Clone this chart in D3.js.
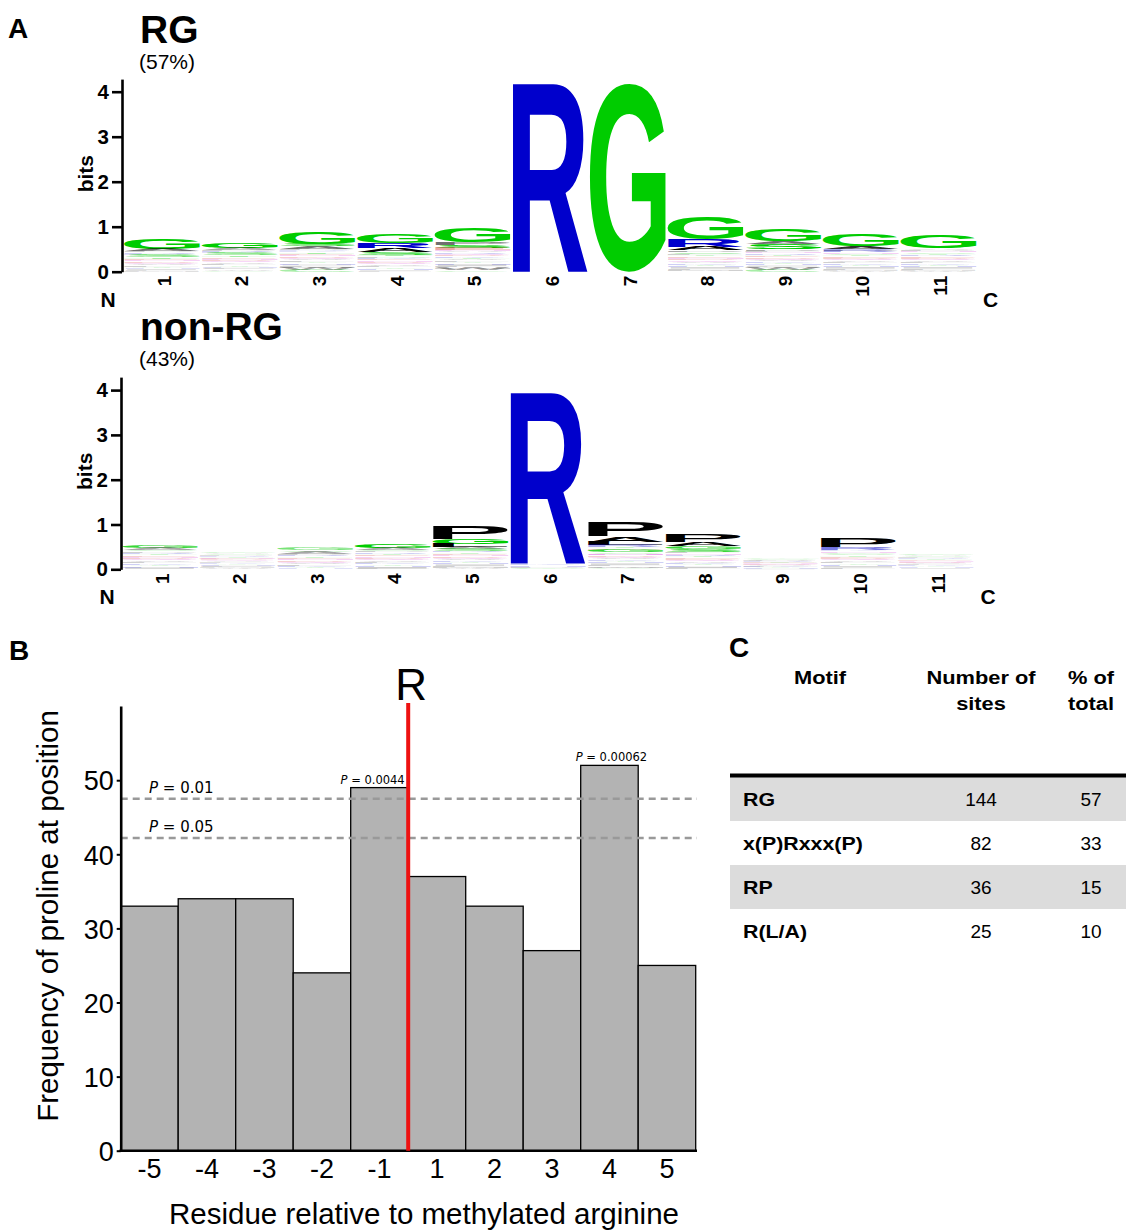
<!DOCTYPE html>
<html><head><meta charset="utf-8">
<script src="https://cdn.jsdelivr.net/npm/d3@7"></script>
<style>body{margin:0;background:#fff} svg{display:block}</style>
</head><body>
<svg id="fig" width="1126" height="1230"></svg>
<script>
// ---------------- DATA ----------------
const logoPositions = ["1","2","3","4","5","6","7","8","9","10","11"];
const bitTicks = [0,1,2,3,4];
// each column listed top -> bottom as [residue, bits]
const rgLogo = [
  [["G",.22],["A",.05],["P",.03],["R",.03],["K",.02],["S",.05],["T",.04],["E",.03],["N",.03],["D",.03],["Q",.03],["V",.03],["L",.03],["Y",.03],["H",.02],["I",.02],["F",.02],["M",.02]],
  [["G",.11],["A",.04],["P",.03],["R",.03],["K",.02],["S",.05],["T",.04],["E",.03],["N",.03],["D",.03],["Q",.03],["V",.03],["L",.03],["Y",.03],["H",.02],["I",.02],["F",.02],["M",.01],["W",.02],["C",.02]],
  [["G",.25],["S",.06],["A",.05],["P",.03],["R",.02],["K",.02],["T",.04],["E",.03],["N",.03],["D",.03],["Q",.03],["V",.03],["L",.03],["Y",.03],["H",.03],["I",.02],["F",.03],["M",.03],["W",.04],["C",.04]],
  [["G",.20],["R",.11],["A",.09],["S",.06],["T",.04],["P",.03],["K",.03],["E",.03],["N",.03],["D",.03],["Q",.03],["V",.03],["L",.03],["Y",.03],["H",.03],["I",.02],["F",.02]],
  [["G",.33],["P",.05],["S",.07],["E",.04],["N",.03],["A",.03],["R",.03],["Q",.03],["D",.03],["K",.03],["T",.03],["V",.03],["L",.03],["Y",.03],["H",.03],["I",.03],["F",.03],["M",.03],["W",.04],["C",.03]],
  [["R",4.18]],
  [["G",4.18]],
  [["G",.48],["R",.16],["A",.07],["P",.04],["S",.04],["L",.03],["T",.03],["E",.03],["N",.03],["D",.03],["Q",.03],["V",.03],["K",.03],["Y",.03],["H",.03],["I",.03],["F",.03],["M",.03],["W",.01]],
  [["G",.26],["A",.05],["S",.11],["P",.04],["L",.03],["N",.03],["R",.03],["T",.03],["E",.03],["D",.03],["Q",.03],["V",.03],["K",.03],["Y",.03],["H",.03],["I",.02],["F",.02],["M",.02],["W",.04],["C",.04]],
  [["G",.27],["A",.06],["P",.04],["R",.04],["N",.03],["S",.03],["T",.03],["E",.03],["D",.03],["Q",.03],["V",.03],["L",.03],["K",.03],["Y",.03],["H",.03],["I",.03],["F",.03],["M",.02],["W",.02]],
  [["G",.30],["A",.03],["P",.03],["N",.03],["S",.03],["T",.03],["R",.03],["E",.03],["D",.03],["Q",.03],["V",.03],["L",.03],["K",.03],["Y",.03],["H",.03],["I",.03],["F",.03],["M",.02],["W",.02]]
];
const nonRgLogo = [
  [["G",.06],["A",.04],["S",.03],["P",.03],["R",.03],["T",.03],["E",.03],["N",.03],["D",.03],["Q",.03],["V",.03],["L",.03],["K",.03],["Y",.03],["H",.03],["I",.03],["F",.01]],
  [["G",.03],["A",.02],["S",.02],["P",.02],["R",.02],["T",.02],["E",.02],["N",.02],["D",.02],["Q",.02],["V",.02],["L",.02],["K",.02],["Y",.02],["H",.02],["I",.02],["F",.02],["M",.02],["W",.02]],
  [["G",.05],["S",.03],["A",.04],["P",.03],["R",.03],["T",.03],["E",.03],["N",.03],["D",.03],["Q",.03],["V",.03],["L",.03],["K",.03],["Y",.03],["H",.02]],
  [["G",.08],["A",.04],["S",.03],["P",.03],["R",.03],["T",.03],["E",.03],["N",.03],["D",.03],["Q",.03],["V",.03],["L",.03],["K",.03],["Y",.03],["H",.03],["I",.03],["F",.02]],
  [["P",.28],["G",.10],["L",.07],["A",.04],["S",.05],["R",.03],["T",.03],["E",.03],["N",.03],["D",.03],["Q",.03],["V",.03],["K",.03],["Y",.03],["H",.03],["I",.03],["F",.03],["M",.03],["W",.02]],
  [["R",3.79],["K",.03],["H",.03],["P",.03],["G",.03]],
  [["P",.33],["A",.12],["L",.07],["R",.04],["T",.03],["E",.03],["G",.06],["S",.03],["N",.04],["D",.03],["Q",.03],["V",.03],["K",.03],["Y",.03],["H",.03],["I",.03],["F",.03],["M",.03],["W",.02],["C",.02]],
  [["P",.17],["A",.09],["G",.06],["S",.06],["L",.03],["N",.03],["R",.03],["T",.03],["E",.03],["D",.03],["Q",.03],["V",.03],["K",.03],["Y",.03],["H",.03],["I",.03],["F",.03]],
  [["G",.02],["S",.02],["A",.015],["P",.015],["R",.015],["T",.015],["E",.015],["N",.015],["D",.015],["Q",.015],["V",.015],["L",.015],["K",.015],["Y",.015],["H",.015],["I",.015]],
  [["P",.19],["A",.03],["R",.05],["K",.02],["N",.03],["G",.03],["S",.03],["T",.03],["E",.03],["D",.03],["Q",.03],["V",.03],["L",.03],["Y",.03],["H",.03],["I",.03],["F",.03],["M",.01]],
  [["G",.03],["A",.02],["S",.02],["P",.02],["R",.02],["T",.02],["E",.02],["N",.02],["D",.02],["Q",.02],["V",.02],["L",.02],["K",.02],["Y",.02],["H",.02],["I",.02],["F",.01]]
];

const residues = ["-5","-4","-3","-2","-1","1","2","3","4","5"];
const prolineFreq = [33,34,34,24,49,37,33,27,52,25];
const freqTicks = [0,10,20,30,40,50];
const thresholdLabels = ["0.01","0.05"];
const thresholdValues = [47.5,42.2];
const annotatedResidues = ["-1","4"];
const annotatedPvalues = ["0.0044","0.00062"];

const tableHeaders = [["Motif"],["Number of","sites"],["% of","total"]];
const motifs = ["RG","x(P)Rxxx(P)","RP","R(L/A)"];
const siteCounts = [144,82,36,25];
const sitePercents = [57,33,15,10];

// ---------------- DRAWING ----------------
const svg = d3.select("#fig");
const SANS = "'Liberation Sans', Arial, sans-serif";
const DEJA = "'DejaVu Sans', sans-serif";

const aaColor = aa => "GSTYC".includes(aa) ? "#00cc00" : "KRH".includes(aa) ? "#0000cc" :
  "DE".includes(aa) ? "#cc0000" : "QN".includes(aa) ? "#cc00cc" : "#000000";

const ctx = document.createElement("canvas").getContext("2d");
ctx.font = "bold 100px 'Liberation Sans'";
const gm = {};
function glyph(l){
  if(!gm[l]){ const m = ctx.measureText(l);
    gm[l] = {l:m.actualBoundingBoxLeft, r:m.actualBoundingBoxRight, a:m.actualBoundingBoxAscent, d:m.actualBoundingBoxDescent}; }
  return gm[l];
}

function txt(g, x, y, s, size, opts={}){
  const t = g.append("text").text(s)
    .attr("font-family",opts.family||SANS).attr("font-size",size)
    .attr("font-weight",opts.weight||"normal").attr("text-anchor",opts.anchor||"start")
    .attr("fill",opts.fill||"#000");
  if(opts.sx) t.attr("transform",`translate(${x},${y}) scale(${opts.sx},1)`);
  else t.attr("x",x).attr("y",y);
  return t;
}

function drawLogo(data, cfg){
  const g = svg.append("g");
  const x = d3.scaleBand().domain(logoPositions).range([cfg.x0, cfg.x1]).paddingInner(0.02).paddingOuter(0);
  const y = d3.scaleLinear().domain([0, cfg.ymax]).range([cfg.zero, cfg.zero - cfg.ymax*cfg.ppb]);
  data.forEach((col, i) => {
    const x0 = x(logoPositions[i]), w = x.bandwidth();
    let cum = d3.sum(col, d => d[1]);
    col.forEach(([aa, h]) => {
      const top = y(cum), bot = y(cum - h); cum -= h;
      const hpx = bot - top;
      const m = glyph(aa);
      const sx = w/(m.l+m.r), sy = hpx/(m.a+m.d);
      const op = hpx >= 3 ? 1 : Math.max(0.12, Math.pow(hpx/3, 2));
      g.append("text").text(aa).attr("font-family","Liberation Sans").attr("font-weight","bold")
        .attr("font-size",100).attr("fill",aaColor(aa)).attr("fill-opacity",op)
        .attr("transform",`translate(${x0},${top}) scale(${sx},${sy}) translate(${m.l},${m.a})`);
    });
  });
  const ax = g.append("g").attr("transform",`translate(${cfg.axX},0)`)
    .call(d3.axisLeft(y).tickValues(bitTicks).tickFormat(d3.format("d")).tickSize(10).tickSizeOuter(0).tickPadding(3));
  ax.select(".domain").attr("stroke-width",2.6).attr("stroke","#000");
  ax.selectAll(".tick line").attr("stroke-width",2.6).attr("stroke","#000");
  ax.selectAll(".tick text").attr("font-family",SANS).attr("font-weight","bold").attr("font-size",20.5).attr("fill","#000");
  g.append("text").text("bits").attr("transform",`translate(${cfg.axX-29},${cfg.zero-98}) rotate(-90)`)
    .attr("text-anchor","middle").attr("font-family",SANS).attr("font-weight","bold").attr("font-size",21);
  logoPositions.forEach(p => {
    g.append("text").text(p).attr("transform",`translate(${x(p)+x.bandwidth()/2+2},${cfg.zero+4}) rotate(-90)`)
      .attr("text-anchor","end").attr("dy","0.35em").attr("font-family",SANS).attr("font-weight","bold").attr("font-size",19);
  });
  txt(g, cfg.axX-14, cfg.zero+35, "N", 21, {weight:"bold", anchor:"middle"});
  txt(g, cfg.x1+14, cfg.zero+35, "C", 21, {weight:"bold", anchor:"middle"});
  txt(g, 140, cfg.titleY, cfg.title, 39, {weight:"bold"});
  txt(g, 139, cfg.titleY+26, cfg.sub, 21);
}

txt(svg, 8, 38, "A", 28, {weight:"bold"});
drawLogo(rgLogo, {x0:124, x1:976.5, zero:271.7, ppb:45, ymax:4.28, axX:122, title:"RG", sub:"(57%)", titleY:43});
drawLogo(nonRgLogo, {x0:122, x1:974, zero:569.3, ppb:44.8, ymax:4.29, axX:121, title:"non-RG", sub:"(43%)", titleY:340});

// ---------- Panel B ----------
txt(svg, 9, 660, "B", 28, {weight:"bold"});
const gb = svg.append("g");
const bx = d3.scaleBand().domain(residues).range([120.7, 695.7]).padding(0);
const by = d3.scaleLinear().domain([0, 60]).range([1150.7, 706.1]);

gb.selectAll("rect.bar").data(residues).join("rect").attr("class","bar")
  .attr("x", d => bx(d)).attr("width", bx.bandwidth())
  .attr("y", (d,i) => by(prolineFreq[i])).attr("height", (d,i) => by(0) - by(prolineFreq[i]))
  .attr("fill","#b3b3b3").attr("stroke","#000").attr("stroke-width",1.3);

thresholdValues.forEach((v,i) => {
  gb.append("line").attr("x1",120.7).attr("x2",697).attr("y1",by(v)).attr("y2",by(v))
    .attr("stroke","#999").attr("stroke-width",2.6).attr("stroke-dasharray","7,5");
  const t = gb.append("text").attr("x",149).attr("y",by(v)-6).attr("font-family",DEJA).attr("font-size",15);
  t.append("tspan").attr("font-style","italic").text("P");
  t.append("tspan").text(" = " + thresholdLabels[i]);
});

annotatedResidues.forEach((r,i) => {
  const v = prolineFreq[residues.indexOf(r)];
  const first = i === 0;
  const t = gb.append("text").attr("x", first ? bx(r)+bx.bandwidth()-3.5 : bx(r)+bx.bandwidth()/2+2)
    .attr("y",by(v)-4).attr("text-anchor", first ? "end" : "middle")
    .attr("font-family",DEJA).attr("font-size",11.5);
  t.append("tspan").attr("font-style","italic").text("P");
  t.append("tspan").text(" = " + annotatedPvalues[i]);
});

const ya = gb.append("g").attr("transform","translate(120.7,0)")
  .call(d3.axisLeft(by).tickValues(freqTicks).tickSize(4).tickSizeOuter(0).tickPadding(3));
ya.select(".domain").attr("stroke","#000").attr("stroke-width",2.6);
ya.selectAll(".tick line").attr("stroke","#000").attr("stroke-width",2);
ya.selectAll(".tick text").attr("font-family",SANS).attr("font-size",27).attr("fill","#000").attr("dy","0.36em");

const xa = gb.append("g").attr("transform",`translate(0,${by(0)})`)
  .call(d3.axisBottom(bx).tickSize(0).tickSizeOuter(0).tickPadding(8));
xa.select(".domain").attr("stroke","#000").attr("stroke-width",2.6).attr("d","M119.5,0H697");
xa.selectAll(".tick text").attr("font-family",SANS).attr("font-size",27).attr("fill","#000");

const rx = bx("1");
gb.append("line").attr("x1",rx).attr("x2",rx).attr("y1",by(60)-3).attr("y2",by(0))
  .attr("stroke","#ee1111").attr("stroke-width",4);
txt(gb, rx+3, 700, "R", 44, {anchor:"middle"});

gb.append("text").text("Frequency of proline at position")
  .attr("transform","translate(58,916) rotate(-90)").attr("text-anchor","middle")
  .attr("font-family",SANS).attr("font-size",29.5);
txt(gb, 424, 1224, "Residue relative to methylated arginine", 29.5, {anchor:"middle"});

// ---------- Panel C ----------
txt(svg, 729, 657, "C", 28, {weight:"bold"});
const gc = svg.append("g");
const colX = [820, 981, 1091];
tableHeaders.forEach((lines,i) => lines.forEach((s,j) =>
  txt(gc, colX[i], 684 + j*26, s, 18.5, {weight:"bold", anchor:"middle", sx:1.18})));
const rowY = d3.scaleBand().domain(motifs).range([777, 777 + 44*motifs.length]);
gc.selectAll("rect.row").data(motifs.filter((d,i) => i%2===0)).join("rect")
  .attr("x",730).attr("width",396).attr("y", d => rowY(d)).attr("height", rowY.bandwidth())
  .attr("fill","#dcdcdc");
gc.append("line").attr("x1",730).attr("x2",1126).attr("y1",775.5).attr("y2",775.5)
  .attr("stroke","#000").attr("stroke-width",4);
motifs.forEach((m,i) => {
  const cy = rowY(m) + rowY.bandwidth()/2 + 7;
  txt(gc, 743, cy, m, 17.5, {weight:"bold", sx:1.22});
  txt(gc, colX[1], cy, siteCounts[i], 19, {anchor:"middle"});
  txt(gc, colX[2], cy, sitePercents[i], 19, {anchor:"middle"});
});
</script>
</body></html>
